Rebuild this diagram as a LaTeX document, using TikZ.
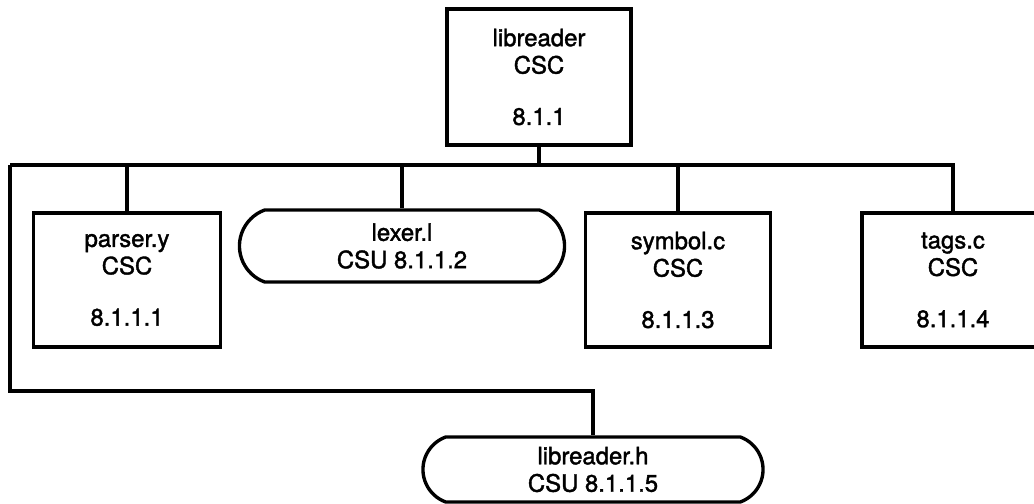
\documentclass[tikz,border=0pt]{standalone}
\usepackage{fontspec}
\setmainfont{TeX Gyre Heros}[FakeBold=1.6]
\usetikzlibrary{shapes.misc, positioning}
\usetikzlibrary{calc}

\tikzset{
	csc/.style={draw, rectangle, inner sep=0pt, align=center},
	csu/.style={draw, rounded rectangle, rounded rectangle arc length=140, inner sep=0pt, align=center},
	lbl/.style={font=\fontsize{17pt}{19.5pt}\selectfont}
}

\begin{document}
\begin{tikzpicture}[x=0.025cm, y=-0.025cm, line width=2.4pt, lbl]
		\useasboundingbox (0,0) rectangle (1034,504);

		\draw (539,77) node[csc, minimum width=4.6cm, minimum height=3.4cm] (top) {libreader\\CSC\\[17pt]8.1.1}
		(127,280) node[csc, minimum width=4.675cm, minimum height=3.35cm] (parser) {parser.y\\CSC\\[17pt]8.1.1.1}
		(402,246) node[csu, minimum width=8.125cm, minimum height=1.8cm] (lexer) {lexer.l\\CSU 8.1.1.2}
		(678,280) node[csc, minimum width=4.625cm, minimum height=3.35cm] (symbol) {symbol.c\\CSC\\[17pt]8.1.1.3}
		(953,280) node[csc, minimum width=4.55cm, minimum height=3.35cm] (tags) {tags.c\\CSC\\[17pt]8.1.1.4}
		(593,469.5) node[csu, minimum width=8.5cm, minimum height=1.625cm] (hfile) {libreader.h\\CSU 8.1.1.5};

		\coordinate (busL) at (10,165);
		\coordinate (lowL) at (10,391);

		\draw (top.south) -- (top.south |- busL);
		\draw (busL) -- (tags.north |- busL) -- (tags.north);
		\draw (parser.north) -- (parser.north |- busL);
		\draw (lexer.north) -- (lexer.north |- busL);
		\draw (symbol.north) -- (symbol.north |- busL);
		\draw (busL) -- (lowL) -| (hfile.north);
	\end{tikzpicture}
\end{document}
